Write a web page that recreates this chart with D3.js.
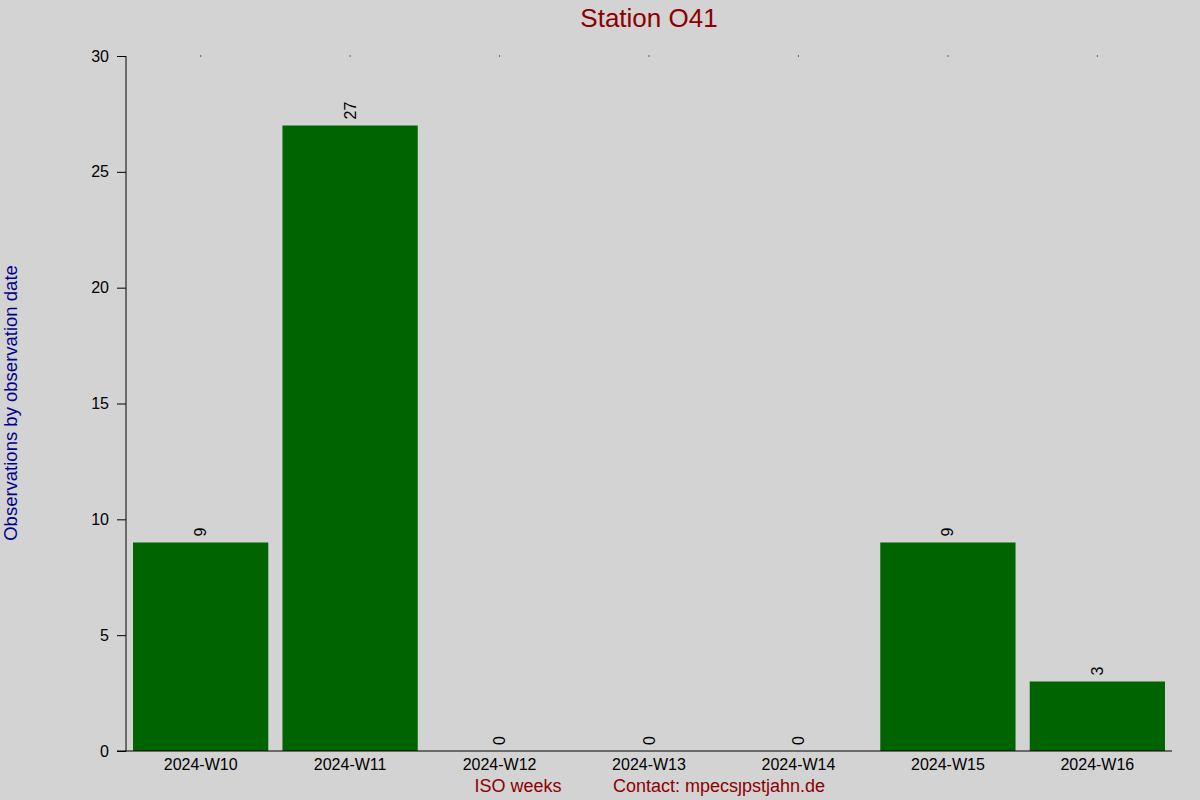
<!DOCTYPE html>
<html><head><meta charset="utf-8">
<script src="https://cdn.jsdelivr.net/npm/d3@7"></script>
<style>html,body{margin:0;padding:0;background:#d3d3d3;}svg{display:block;font-family:"Liberation Sans",Arial,sans-serif;}</style>
</head><body>
<svg id="c" width="1200" height="800"></svg>
<script>
const weeks = ["2024-W10","2024-W11","2024-W12","2024-W13","2024-W14","2024-W15","2024-W16"];
const counts = [9, 27, 0, 0, 0, 9, 3];
const yTicks = [0, 5, 10, 15, 20, 25, 30];
const title = "Station O41";
const yLabel = "Observations by observation date";
const xLabel = "ISO weeks";
const contact = "Contact: mpecsȷpstjahn.de";

const svg = d3.select("#c");
svg.append("rect").attr("width",1200).attr("height",800).attr("fill","#d3d3d3");
const pLeft = 126, pRight = 1172, pTop = 56, pBottom = 751;
const x = d3.scaleBand().domain(weeks).range([pLeft, pRight]).paddingInner(0.095).paddingOuter(0.047);
const y = d3.scaleLinear().domain([0, 30]).range([pBottom, pTop]);
const FF = "Liberation Sans, Arial, sans-serif";

// bars
svg.append("g").selectAll("rect").data(weeks).join("rect")
  .attr("x", d => x(d)).attr("width", x.bandwidth())
  .attr("y", (d,i) => y(counts[i])).attr("height", (d,i) => pBottom - y(counts[i]))
  .attr("fill", "#006400");

// value labels
svg.append("g").selectAll("text").data(weeks).join("text")
  .attr("transform", (d,i) => `translate(${x(d)+x.bandwidth()/2},${y(counts[i])-6}) rotate(-90)`)
  .attr("text-anchor","start").attr("dominant-baseline","central")
  .attr("font-size",16).attr("fill","#000")
  .text((d,i) => counts[i]);

// y axis
const yAxis = svg.append("g").attr("transform",`translate(${pLeft},0)`)
  .call(d3.axisLeft(y).tickValues(yTicks).tickSize(9).tickPadding(8));
yAxis.select(".domain").attr("stroke","#000").attr("d",`M0,${pTop}V${pBottom}`);
yAxis.selectAll("text").attr("font-size",16).attr("fill","#000").attr("font-family",FF);
yAxis.selectAll("line").attr("stroke","#000");

// x axis
const xAxis = svg.append("g").attr("transform",`translate(0,${pBottom})`)
  .call(d3.axisBottom(x).tickSize(0).tickPadding(7));
xAxis.select(".domain").attr("stroke","#000").attr("d",`M${pLeft-9},0H${pRight}`);
xAxis.selectAll("text").attr("font-size",16).attr("fill","#000").attr("font-family",FF).attr("dy","0.75em");

// top dots
svg.append("g").selectAll("rect").data(weeks).join("rect")
  .attr("x", d => x(d)+x.bandwidth()/2-0.5).attr("y", pTop-0.5).attr("width",1).attr("height",1).attr("fill","#000");

// title
svg.append("text").attr("x",649).attr("y",27).attr("text-anchor","middle")
  .attr("font-size",26).attr("fill","#8b0000").text(title);
// y label
svg.append("text").attr("transform","translate(17,403) rotate(-90)").attr("text-anchor","middle")
  .attr("font-size",18.5).attr("fill","#00008b").text(yLabel);
// x label + contact
svg.append("text").attr("x",518).attr("y",792).attr("text-anchor","middle")
  .attr("font-size",18).attr("fill","#8b0000").text(xLabel);
svg.append("text").attr("x",719).attr("y",792).attr("text-anchor","middle")
  .attr("font-size",18).attr("fill","#8b0000").text(contact);
</script>
</body></html>
